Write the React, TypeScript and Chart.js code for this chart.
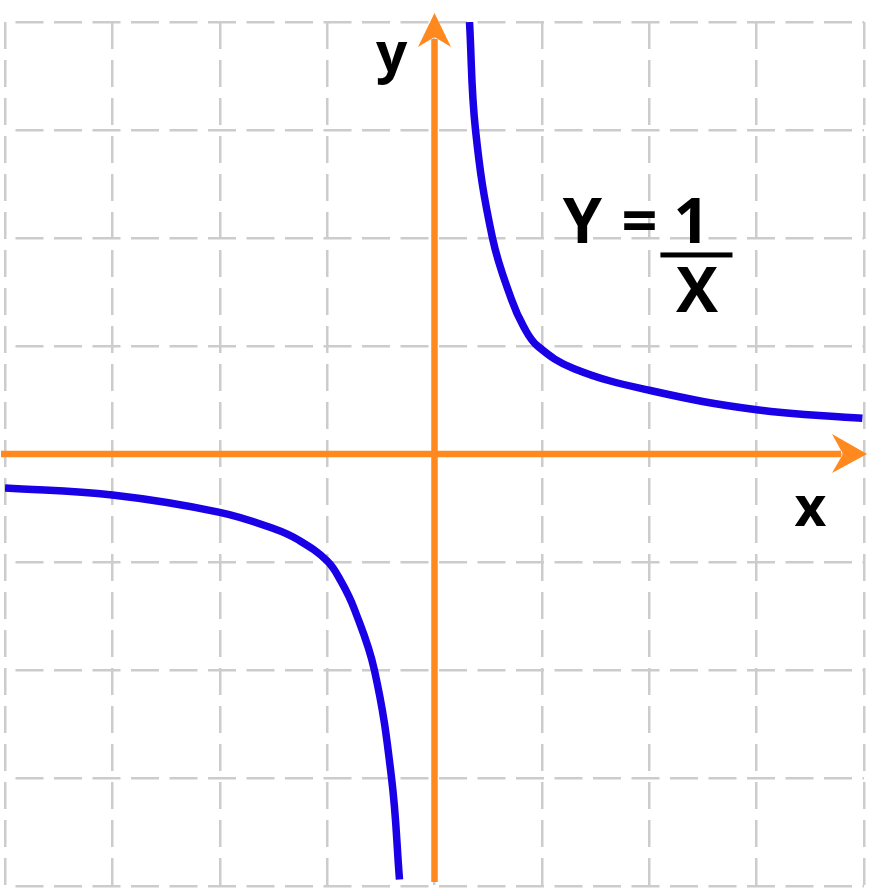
import React, { useEffect, useRef } from "react";
import { Chart, registerables } from "chart.js";

Chart.register(...registerables);

// Upper branch (x > 0)
const upperX = [0.326, 0.382, 0.54, 0.717, 0.83, 0.96, 1.3, 2.0, 3.0, 3.985];
const upperY = [4.0, 3.0, 2.0, 1.43, 1.18, 1.0, 0.79, 0.59, 0.41, 0.33];

// Lower branch (x < 0)
const lowerX = [-4.0, -3.0, -2.0, -1.5, -1.26, -1.0, -0.87, -0.745, -0.56, -0.4, -0.326];
const lowerY = [-0.315, -0.38, -0.54, -0.69, -0.8, -0.99, -1.18, -1.44, -2.0, -3.0, -3.94];

const axisMin = -4;
const axisMax = 4;
const axisStep = 1;

const BLUE = "#1a00e6";
const ORANGE = "#ff891e";
const GRID = "#cccccc";
const FONT = "'Open Sans', 'Noto Sans', sans-serif";

const toPoints = (xs: number[], ys: number[]) => xs.map((x, i) => ({ x, y: ys[i] }));

const axesPlugin = {
  id: "arrowAxes",
  beforeDatasetsDraw(chart: any) {
    const { ctx, chartArea, scales } = chart;
    const ax = scales.x.getPixelForValue(0);
    const ay = scales.y.getPixelForValue(0);
    ctx.save();
    ctx.strokeStyle = ORANGE;
    ctx.fillStyle = ORANGE;
    ctx.lineWidth = 6.5;
    ctx.lineCap = "butt";
    // vertical axis
    const vtip = chartArea.top - 9;
    ctx.beginPath();
    ctx.moveTo(ax, chartArea.bottom - 4);
    ctx.lineTo(ax, vtip + 26);
    ctx.stroke();
    ctx.beginPath();
    ctx.moveTo(ax, vtip);
    ctx.lineTo(ax + 16.5, vtip + 34);
    ctx.lineTo(ax, vtip + 24);
    ctx.lineTo(ax - 16.5, vtip + 34);
    ctx.closePath();
    ctx.fill();
    // horizontal axis
    const htip = chartArea.right + 3;
    ctx.beginPath();
    ctx.moveTo(chartArea.left - 4, ay);
    ctx.lineTo(htip - 26, ay);
    ctx.stroke();
    ctx.beginPath();
    ctx.moveTo(htip, ay);
    ctx.lineTo(htip - 35, ay - 20);
    ctx.lineTo(htip - 24, ay);
    ctx.lineTo(htip - 35, ay + 19);
    ctx.closePath();
    ctx.fill();
    ctx.restore();
  },
  afterDraw(chart: any) {
    const { ctx, scales } = chart;
    const px = (v: number) => scales.x.getPixelForValue(v);
    const py = (v: number) => scales.y.getPixelForValue(v);
    ctx.save();
    ctx.fillStyle = "#000000";
    ctx.textAlign = "center";
    ctx.textBaseline = "alphabetic";
    ctx.font = `bold 55px ${FONT}`;
    ctx.fillText("y", px(-0.4), py(3.537));
    ctx.fillText("x", px(3.5), py(-0.667));
    ctx.font = `bold 63px ${FONT}`;
    ctx.fillText("Y", px(1.378), py(1.954));
    ctx.fillText("=", px(1.909), py(1.954));
    ctx.fillText("1", px(2.393), py(1.954));
    ctx.fillText("X", px(2.444), py(1.315));
    ctx.fillRect(px(2.104), py(1.843) - 2.5, px(2.775) - px(2.104), 5);
    ctx.restore();
  },
};

export default function App() {
  const ref = useRef<HTMLCanvasElement | null>(null);
  useEffect(() => {
    if (!ref.current) return;
    const lineStyle = {
      showLine: true,
      borderColor: BLUE,
      borderWidth: 7.5,
      pointRadius: 0,
      tension: 0.4,
      borderCapStyle: "butt",
      borderJoinStyle: "round",
    };
    const chart = new Chart(ref.current, {
      type: "scatter",
      data: {
        datasets: [
          { ...lineStyle, data: toPoints(upperX, upperY) },
          { ...lineStyle, data: toPoints(lowerX, lowerY) },
        ],
      },
      options: {
        animation: false,
        responsive: false,
        layout: { padding: { left: 5, right: 21, top: 22, bottom: 9 } },
        plugins: { legend: { display: false }, tooltip: { enabled: false } },
        scales: {
          x: {
            type: "linear",
            min: axisMin,
            max: axisMax,
            ticks: { display: false, stepSize: axisStep },
            grid: { color: GRID, lineWidth: 2.5, drawTicks: false },
            border: { display: false, dash: [27, 11], dashOffset: 0 },
          },
          y: {
            type: "linear",
            min: axisMin,
            max: axisMax,
            ticks: { display: false, stepSize: axisStep },
            grid: { color: GRID, lineWidth: 2.5, drawTicks: false },
            border: { display: false, dash: [28, 10.5], dashOffset: 28 },
          },
        },
      },
      plugins: [axesPlugin],
    } as any);
    return () => chart.destroy();
  }, []);
  return (
    <div style={{ position: "absolute", left: 0, top: 0, width: 885, height: 895, background: "#fff" }}>
      <canvas ref={ref} width={885} height={895} />
    </div>
  );
}
